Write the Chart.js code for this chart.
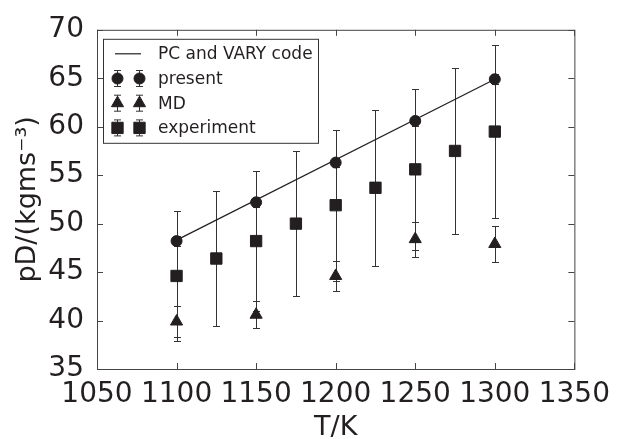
<!DOCTYPE html>
<html>
<head>
<meta charset="utf-8">
<script src="https://cdn.jsdelivr.net/npm/chart.js@4.4.1/dist/chart.umd.min.js"></script>
<style>
  html, body { margin: 0; padding: 0; background: #fff; }
</style>
</head>
<body>
<canvas id="myChart" width="619" height="439"></canvas>
<script>
// temperatures (K)
let temps = [1100, 1150, 1200, 1250, 1300];
let expTemps = [1100, 1125, 1150, 1175, 1200, 1225, 1250, 1275, 1300];

// pD values
let present = [48.2, 52.2, 56.3, 60.6, 64.9];
let presentErr = [0.5, 0.5, 0.5, 0.5, 0.5];
let md = [39.9, 40.6, 44.6, 48.4, 47.9];
let mdErr = [1.55, 1.4, 1.55, 1.8, 1.9];
let experiment = [44.6, 46.4, 48.2, 50.0, 51.9, 53.7, 55.6, 57.5, 59.5];
let expErr = [6.7, 7.0, 7.2, 7.5, 7.8, 8.05, 8.3, 8.6, 8.9];

let pcTemps = [1100, 1300];
let pcVary = [48.3, 64.9];

let labels = ['PC and VARY code', 'present', 'MD', 'experiment'];

const ink = '#231f20';
const fontFamily = '"DejaVu Sans", sans-serif';

function toPoints(xs, ys) {
    return xs.map((x, i) => ({ x: x, y: ys[i] }));
}

// vertical error bars with caps, drawn under the markers
const errorBars = {
    id: 'errorBars',
    beforeDatasetsDraw(chart) {
        const { ctx, scales: { x, y } } = chart;
        ctx.save();
        ctx.strokeStyle = '#333';
        ctx.lineWidth = 1;
        chart.data.datasets.forEach(ds => {
            if (!ds.errors) return;
            ds.data.forEach((p, j) => {
                const px = Math.round(x.getPixelForValue(p.x)) + 0.5;
                const top = Math.round(y.getPixelForValue(p.y + ds.errors[j])) + 0.5;
                const bot = Math.round(y.getPixelForValue(p.y - ds.errors[j])) + 0.5;
                ctx.beginPath();
                ctx.moveTo(px, top); ctx.lineTo(px, bot);
                ctx.moveTo(px - 3.5, top); ctx.lineTo(px + 3.5, top);
                ctx.moveTo(px - 3.5, bot); ctx.lineTo(px + 3.5, bot);
                ctx.stroke();
            });
        });
        ctx.restore();
    }
};

// box round the plot + inward ticks on all four sides
const frame = {
    id: 'frame',
    afterDatasetsDraw(chart) {
        const { ctx, chartArea: a, scales: { x, y } } = chart;
        ctx.save();
        ctx.strokeStyle = '#444';
        ctx.lineWidth = 1;
        ctx.strokeRect(a.left + 0.5, a.top + 0.5, a.right - a.left, a.bottom - a.top);
        ctx.beginPath();
        x.ticks.forEach(t => {
            const px = Math.round(x.getPixelForValue(t.value)) + 0.5;
            ctx.moveTo(px, a.bottom); ctx.lineTo(px, a.bottom - 6);
            ctx.moveTo(px, a.top); ctx.lineTo(px, a.top + 6);
        });
        y.ticks.forEach(t => {
            const py = Math.round(y.getPixelForValue(t.value)) + 0.5;
            ctx.moveTo(a.left, py); ctx.lineTo(a.left + 6, py);
            ctx.moveTo(a.right, py); ctx.lineTo(a.right - 6, py);
        });
        ctx.stroke();
        ctx.restore();
    }
};

// matplotlib-like legend box inside the plot, upper left
const boxLegend = {
    id: 'boxLegend',
    afterDraw(chart) {
        const { ctx, chartArea: a } = chart;
        const left = a.left + 6, top = a.top + 9, w = 215, h = 104;
        ctx.save();
        ctx.fillStyle = '#fff';
        ctx.fillRect(left, top, w, h);
        ctx.strokeStyle = '#333';
        ctx.lineWidth = 1;
        ctx.strokeRect(left + 0.5, top + 0.5, w, h);
        ctx.font = '17px ' + fontFamily;
        ctx.textBaseline = 'middle';
        chart.data.datasets.forEach((ds, i) => {
            const cy = top + 15 + i * 24.7;
            if (ds.pointRadius === 0) {
                ctx.strokeStyle = ink;
                ctx.lineWidth = 1.2;
                ctx.beginPath();
                ctx.moveTo(left + 12, cy); ctx.lineTo(left + 38, cy);
                ctx.stroke();
            } else {
                [left + 14, left + 36].forEach(mx => {
                    const px = Math.round(mx) + 0.5;
                    ctx.strokeStyle = '#333';
                    ctx.lineWidth = 1;
                    ctx.beginPath();
                    ctx.moveTo(px, cy - 8); ctx.lineTo(px, cy + 8);
                    ctx.moveTo(px - 3.5, cy - 8); ctx.lineTo(px + 3.5, cy - 8);
                    ctx.moveTo(px - 3.5, cy + 8); ctx.lineTo(px + 3.5, cy + 8);
                    ctx.stroke();
                    ctx.fillStyle = ink;
                    ctx.strokeStyle = ink;
                    Chart.helpers.drawPoint(ctx, {
                        pointStyle: ds.pointStyle,
                        radius: ds.pointRadius,
                        rotation: 0,
                        borderWidth: 1
                    }, px, cy);
                });
            }
            ctx.fillStyle = ink;
            ctx.fillText(ds.label, left + 55, cy + 1);
        });
        ctx.restore();
    }
};

let ctx = document.getElementById('myChart').getContext('2d');

let myChart = new Chart(ctx, {
    type: 'scatter',
    data: {
        datasets: [{
            label: labels[0],
            data: toPoints(pcTemps, pcVary),
            showLine: true,
            borderColor: ink,
            borderWidth: 1.2,
            pointRadius: 0
        }, {
            label: labels[1],
            data: toPoints(temps, present),
            errors: presentErr,
            pointStyle: 'circle',
            pointRadius: 5.5,
            backgroundColor: ink,
            borderColor: ink,
            borderWidth: 1
        }, {
            label: labels[2],
            data: toPoints(temps, md),
            errors: mdErr,
            pointStyle: 'triangle',
            pointRadius: 7,
            backgroundColor: ink,
            borderColor: ink,
            borderWidth: 1
        }, {
            label: labels[3],
            data: toPoints(expTemps, experiment),
            errors: expErr,
            pointStyle: 'rect',
            pointRadius: 8,
            backgroundColor: ink,
            borderColor: ink,
            borderWidth: 1
        }]
    },
    options: {
        responsive: false,
        animation: false,
        layout: {
            padding: { top: 28, right: 38, left: 0, bottom: 0 }
        },
        plugins: {
            legend: { display: false },
            tooltip: { enabled: false }
        },
        scales: {
            x: {
                type: 'linear',
                min: 1050,
                max: 1350,
                ticks: {
                    stepSize: 50,
                    color: ink,
                    padding: 9,
                    maxRotation: 0,
                    autoSkip: false,
                    font: { family: fontFamily, size: 28 },
                    callback: v => String(v)
                },
                grid: { display: false, drawTicks: false },
                border: { display: false },
                title: {
                    display: true,
                    text: 'T/K',
                    color: ink,
                    font: { family: fontFamily, size: 27, lineHeight: 1 },
                    padding: { top: 0, bottom: -2 }
                },
                afterFit(scale) { scale.height = 70; }
            },
            y: {
                min: 35,
                max: 70,
                ticks: {
                    stepSize: 5,
                    color: ink,
                    padding: 13,
                    font: { family: fontFamily, size: 28 },
                    callback: v => String(v)
                },
                grid: { display: false, drawTicks: false },
                border: { display: false },
                title: {
                    display: true,
                    text: 'pD/(kgms⁻³)',
                    color: ink,
                    font: { family: fontFamily, size: 27, lineHeight: 1 },
                    padding: { top: 14, bottom: 0 }
                },
                afterFit(scale) { scale.width = 97; }
            }
        }
    },
    plugins: [errorBars, frame, boxLegend]
});
</script>
</body>
</html>
